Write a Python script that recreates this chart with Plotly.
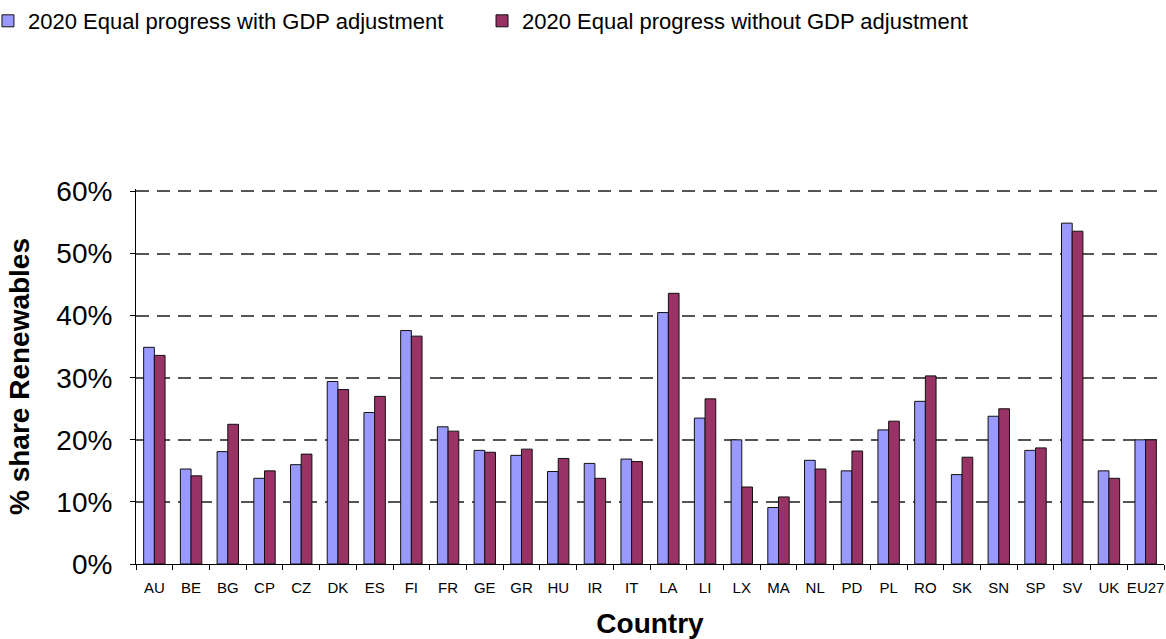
import plotly.graph_objects as go

# Country codes along the x axis
countries = ["AU", "BE", "BG", "CP", "CZ", "DK", "ES", "FI", "FR", "GE", "GR", "HU",
             "IR", "IT", "LA", "LI", "LX", "MA", "NL", "PD", "PL", "RO", "SK", "SN",
             "SP", "SV", "UK", "EU27"]

# 2020 renewables share (fraction) under each equal-progress scenario
with_gdp = [0.349, 0.153, 0.181, 0.138, 0.160, 0.294, 0.244, 0.376, 0.221, 0.183,
            0.175, 0.149, 0.162, 0.169, 0.405, 0.235, 0.200, 0.091, 0.167, 0.150,
            0.216, 0.262, 0.144, 0.238, 0.183, 0.549, 0.150, 0.200]
without_gdp = [0.336, 0.142, 0.225, 0.150, 0.177, 0.281, 0.270, 0.367, 0.214, 0.180,
               0.185, 0.170, 0.138, 0.165, 0.436, 0.266, 0.124, 0.108, 0.153, 0.182,
               0.230, 0.303, 0.172, 0.250, 0.187, 0.536, 0.138, 0.200]

series_names = ["2020 Equal progress with GDP adjustment",
                "2020 Equal progress without GDP adjustment"]

FONT = "Liberation Sans, Arial, sans-serif"

fig = go.Figure()
fig.add_trace(go.Bar(
    x=countries, y=with_gdp, name=series_names[0], legend="legend",
    marker=dict(color="#9999FF", line=dict(color="#111111", width=1)),
))
fig.add_trace(go.Bar(
    x=countries, y=without_gdp, name=series_names[1], legend="legend2",
    marker=dict(color="#993366", line=dict(color="#111111", width=1)),
))

legend_style = dict(
    orientation="h", xref="paper", yref="container",
    y=1.0, xanchor="left", yanchor="top",
    font=dict(size=22, family=FONT),
    bgcolor="rgba(0,0,0,0)",
)

fig.update_layout(
    width=1166, height=639,
    margin=dict(l=136, r=2, t=189, b=75, autoexpand=False),
    paper_bgcolor="white", plot_bgcolor="white",
    barmode="group", bargap=0.417, bargroupgap=0,
    font=dict(family=FONT, color="black"),
    legend=dict(x=-0.144, **legend_style),
    legend2=dict(x=0.3366, **legend_style),
    showlegend=True,
)

fig.update_xaxes(
    type="category",
    showline=True, linecolor="black", linewidth=1,
    ticks="outside", ticklen=5, tickcolor="black", tickson="boundaries",
    tickangle=0,
    tickfont=dict(size=15, family=FONT),
    ticklabelstandoff=10,
    showgrid=False,
    title=dict(text="<b>Country</b>", font=dict(size=28, family=FONT), standoff=19),
)

fig.update_yaxes(
    range=[0, 0.604], tickvals=[0, 0.1, 0.2, 0.3, 0.4, 0.5, 0.6], tickformat=".0%",
    showline=True, linecolor="black", linewidth=1,
    ticks="outside", ticklen=5, tickcolor="black",
    tickfont=dict(size=28, family=FONT),
    ticklabelstandoff=12,
    showgrid=True, gridcolor="#555555", gridwidth=1.5, griddash="13px,8px",
    zeroline=False,
    title=dict(text="<b>% share Renewables</b>", font=dict(size=28, family=FONT), standoff=18),
)

fig.write_html("out.html")
